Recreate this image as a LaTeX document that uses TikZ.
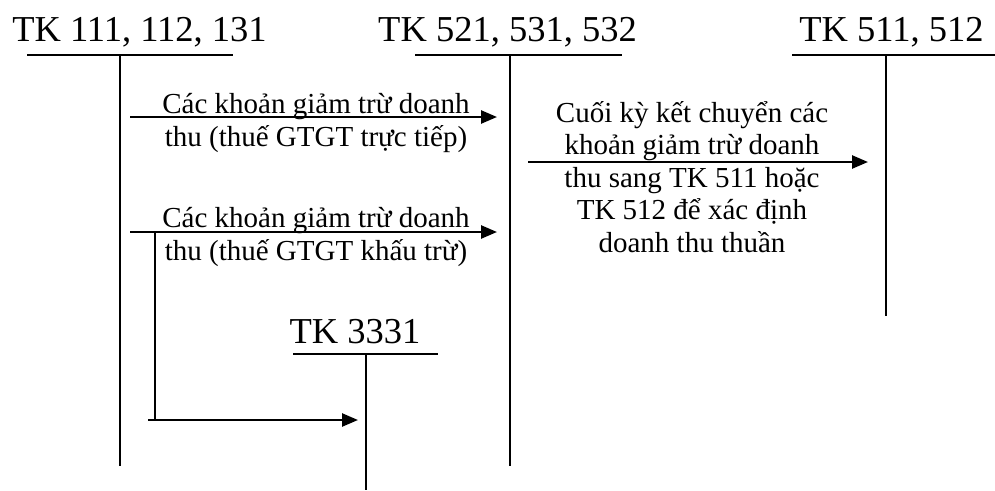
\documentclass[tikz,border=0pt]{standalone}
\usepackage{fontspec}
\setmainfont{Liberation Serif}
\usetikzlibrary{arrows.meta}

\begin{document}
\begin{tikzpicture}[
    x=1pt, y=-1pt,
    >={Triangle[length=16pt,width=13pt]},
    acct/.style={font=\fontsize{36.5}{40}\selectfont, anchor=base, inner sep=0pt},
    tline/.style={line width=1.6pt},
    flow/.style={->, line width=2.5pt},
    lbl/.style={font=\fontsize{29}{33}\selectfont, align=center, anchor=base, inner sep=0pt}
]
\useasboundingbox (0,0) rectangle (995,490);

% account titles
\node[acct] (t111) at (139.5,41) {TK 111, 112, 131};
\node[acct] (t521) at (507.5,41) {TK 521, 531, 532};
\node[acct] (t511) at (891.5,41) {TK 511, 512};
\node[acct] (t3331) at (355,343) {TK 3331};

% T-account frames
\coordinate (top111) at (120,55);  \coordinate (bot111) at (120,466);
\coordinate (top521) at (510,55);  \coordinate (bot521) at (510,466);
\coordinate (top511) at (886,55);  \coordinate (bot511) at (886,316);
\coordinate (top3331) at (366,354); \coordinate (bot3331) at (366,490);
\draw[tline] (27,55) -- (233,55);
\draw[tline] (415,55) -- (622,55);
\draw[tline] (792,55) -- (995,55);
\draw[tline] (293,354) -- (438,354);
\draw[tline] (top111) -- (bot111);
\draw[tline] (top521) -- (bot521);
\draw[tline] (top511) -- (bot511);
\draw[tline] (top3331) -- (bot3331);

% flows
\coordinate (s1) at (130,117);  \coordinate (e1) at (497,117);
\coordinate (s2) at (130,232);  \coordinate (e2) at (497,232);
\coordinate (s3) at (528,162);  \coordinate (e3) at (868,162);
\coordinate (br) at (155,232);  \coordinate (bk) at (155,420);
\coordinate (s4) at (148,420);  \coordinate (e4) at (358,420);
\draw[flow] (s1) -- (e1);
\draw[flow] (s2) -- (e2);
\draw[flow] (s3) -- (e3);
\draw[tline] (br) -- (bk);
\draw[flow] (s4) -- (e4);

% labels (base = last line)
\node[lbl] (l1) at (316,146) {Các khoản giảm trừ doanh\\thu (thuế GTGT trực tiếp)};
\node[lbl] (l2) at (316,260) {Các khoản giảm trừ doanh\\thu (thuế GTGT khấu trừ)};
\node[lbl, font=\fontsize{29}{32.5}\selectfont] (l3) at (692,252) {Cuối kỳ kết chuyển các\\khoản giảm trừ doanh\\thu sang TK 511 hoặc\\TK 512 để xác định\\doanh thu thuần};
\end{tikzpicture}
\end{document}
